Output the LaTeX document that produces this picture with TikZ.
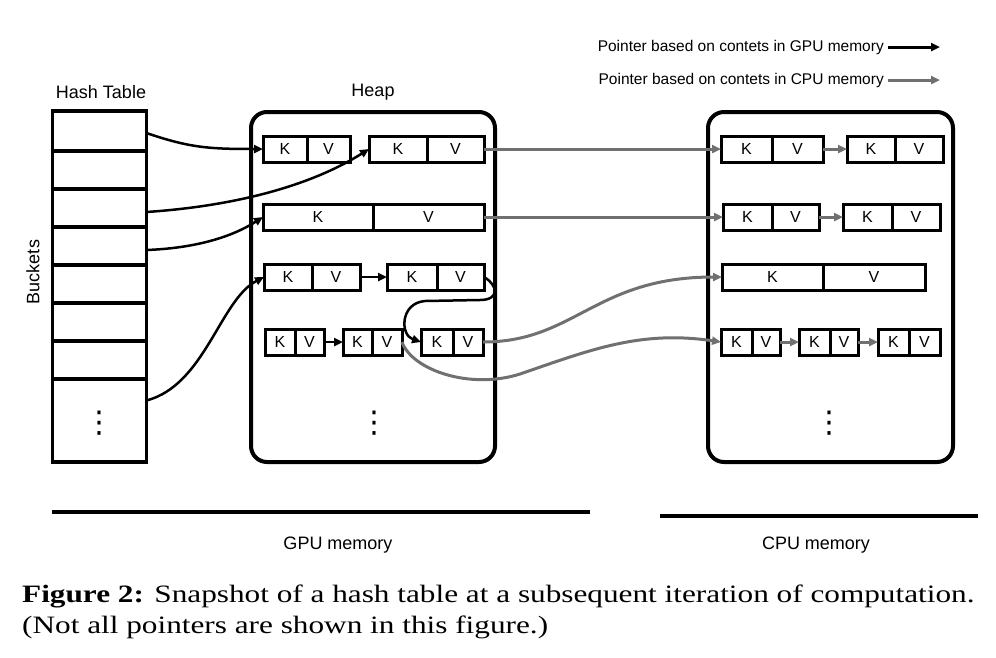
\documentclass[tikz,border=0pt]{standalone}
\usepackage{fontspec}
\setmainfont{Liberation Sans}
\newfontfamily\captionfont[FakeStretch=1.25]{Liberation Serif}
\newfontfamily\dotsfont{DejaVu Sans}
\usetikzlibrary{arrows.meta,positioning}
\definecolor{cpugray}{HTML}{707070}
\tikzset{
  bucket/.style={draw, line width=3.5pt, minimum width=94pt, inner sep=0pt, outer sep=0pt},
  cell/.style={draw, line width=3pt, minimum height=26pt, inner sep=0pt, outer sep=0pt, font=\fontsize{16}{16}\selectfont},
  memory/.style={draw, line width=4pt, rounded corners=16pt, minimum width=244pt, minimum height=350pt, inner sep=0pt},
  title/.style={font=\fontsize{18}{18}\selectfont},
  legend/.style={font=\fontsize{15.5}{16}\selectfont, inner sep=4pt},
  moredots/.style={font=\dotsfont\fontsize{30}{30}\selectfont, inner sep=0pt},
  gpuptr/.style={draw=black, line width=2.5pt, -{Triangle[length=9pt,width=8pt]}},
  cpuptr/.style={draw=cpugray, line width=3pt, -{Triangle[length=9pt,width=8pt]}},
}
% one key/value entry: name, left, divider, right, y
\newcommand{\kvpair}[5]{%
  \node[cell, minimum width={#3-#2}] (#1k) at ({(#2+#3)/2},#5) {K};
  \node[cell, minimum width={#4-#3}] (#1v) at ({(#3+#4)/2},#5) {V};}
\begin{document}
\begin{tikzpicture}[x=1pt,y=-1pt]
  \useasboundingbox (0,0) rectangle (996,657);
  % hash table
  \foreach \i/\t/\b in {1/111/151,2/151/189,3/189/227,4/227/265,5/265/303,6/303/341,7/341/379,8/379/462}
    \node[bucket, minimum height={\b-\t}] (b\i) at (99.5,{(\t+\b)/2}) {};
  \node[moredots] (bdots) at (99,423) {⋮};
  \node[title] (htlbl) at (101,92) {Hash Table};
  \node[title, rotate=90] (bklbl) at (33,272) {Buckets};

  % heap and cpu memory
  \node[memory] (heap) at (373,287) {};
  \node[title] (heaplbl) at (373,92) {Heap};
  \node[memory, minimum width=245pt] (cpu) at (830.5,287) {};
  \node[moredots] (hdots) at (374,423) {⋮};
  \node[moredots] (cdots) at (829,423) {⋮};

  \kvpair{ha}{263}{307}{350}{149}
  \kvpair{hb}{369}{427}{484}{149}
  \kvpair{hc}{263}{373}{484}{217}
  \kvpair{hd}{264}{312}{360}{277}
  \kvpair{he}{387}{437}{484}{277}
  \kvpair{hf}{265}{295}{324}{342}
  \kvpair{hg}{343}{372}{402}{342}
  \kvpair{hh}{421}{453}{483}{342}

  \kvpair{ca}{721}{772}{823}{149}
  \kvpair{cb}{847}{895}{943}{149}
  \kvpair{cc}{723}{772}{819}{217}
  \kvpair{cd}{843}{892}{940}{217}
  \kvpair{ce}{722}{823}{925}{277}
  \kvpair{cf}{721}{752}{780}{342}
  \kvpair{cg}{799}{830}{858}{342}
  \kvpair{ch}{878}{909}{940}{342}

  % pointers in gpu memory
  \draw[gpuptr] ([yshift=-2pt]b1.east) .. controls (190,148) and (210,149) .. (hak.west);
  \draw[gpuptr] ([yshift=-4pt]b3.east) .. controls (250,205) and (320,180) .. (hbk.west);
  \draw[gpuptr] ([yshift=-4pt]b4.east) .. controls (200,248) and (235,235) .. (hck.west);
  \draw[gpuptr] ([yshift=20pt]b8.east) .. controls (205,385) and (220,300) .. (hdk.west);
  \draw[gpuptr] (hdv) -- (hek);
  \draw[gpuptr] (hev.east) .. controls (498,285) and (500,300) .. (480,300) -- (425,301)
    .. controls (400,303) and (400,335) .. (hhk.west);
  \draw[gpuptr] (hfv) -- (hgk);

  % pointers in cpu memory
  \draw[cpuptr] (hbv) -- (cak);
  \draw[cpuptr] (hcv) -- (cck);
  \draw[cpuptr] (hhv.east) .. controls (575,342) and (595,277) .. (cek.west);
  \draw[cpuptr] (hgv.east) .. controls (412,370) and (470,390) .. (520,374)
    .. controls (590,350) and (640,330) .. (cfk.west);
  \draw[cpuptr] (cav) -- (cbk);
  \draw[cpuptr] (ccv) -- (cdk);
  \draw[cpuptr] (cfv) -- (cgk);
  \draw[cpuptr] (cgv) -- (chk);

  % legend
  \node[legend, anchor=east] (lgpu) at (888,47) {Pointer based on contets in GPU memory};
  \coordinate (lgpuend) at (940,47);
  \draw[gpuptr, line width=3pt] (lgpu.east) -- (lgpuend);
  \node[legend, anchor=east] (lcpu) at (888,80) {Pointer based on contets in CPU memory};
  \coordinate (lcpuend) at (940,80);
  \draw[cpuptr] (lcpu.east) -- (lcpuend);

  % memory bars
  \draw[line width=4pt] (52,512) -- (590,512);
  \draw[line width=4pt] (660,516) -- (978,516);
  \node[font=\fontsize{18}{18}\selectfont] (gpulbl) at (338,545) {GPU memory};
  \node[font=\fontsize{18}{18}\selectfont] (cpulbl) at (816,545) {CPU memory};

  % caption
  \node[anchor=base west, inner sep=0pt, font=\captionfont\fontsize{25}{25}\selectfont] (cap1) at (22,602)
    {\textbf{Figure 2:} Snapshot of a hash table at a subsequent iteration of computation.};
  \node[anchor=base west, inner sep=0pt, font=\captionfont\fontsize{25}{25}\selectfont] (cap2) at (22,633)
    {(Not all pointers are shown in this figure.)};
\end{tikzpicture}
\end{document}
